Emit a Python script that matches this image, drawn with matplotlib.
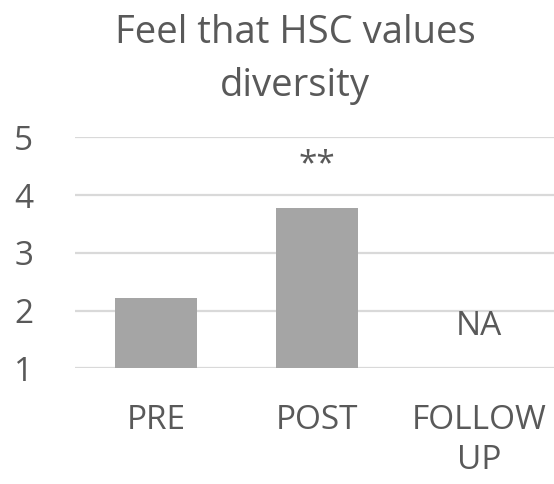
import matplotlib
matplotlib.use("Agg")
import matplotlib.pyplot as plt

categories = ["PRE", "POST", "FOLLOW\nUP"]
values = [2.22, 3.77, 0]
annotations = ["", "**", "NA"]
title_lines = ["Feel that HSC values", "diversity"]
yticks = [1, 2, 3, 4, 5]

plt.rcParams['font.family'] = ['Open Sans', 'DejaVu Sans']
text_color = "#595959"
fs = 24

fig = plt.figure(figsize=(5.54, 4.84), dpi=100)
ax = fig.add_axes([75/554, 115.7/484, 484.5/554, 231/484])
x = list(range(len(categories)))
ax.bar(x, values, width=0.51, bottom=0, color="#a5a5a5", zorder=3)
ax.set_ylim(1, 5)
ax.set_xlim(-0.5, 2.5)
ax.set_yticks(yticks)
ax.set_xticks(x)
ax.set_xticklabels(categories, fontsize=fs, color=text_color, linespacing=1.25, va='top')
ax.set_yticklabels([str(t) for t in yticks], fontsize=fs, color=text_color)
ax.tick_params(axis='x', length=0, pad=26)
ax.tick_params(axis='y', length=0, pad=30)
ax.grid(axis='y', color="#d9d9d9", linewidth=1.6, zorder=0)
for s in ax.spines.values():
    s.set_visible(False)

ann_y = [None, 4.53, 1.72]
for xi, txt, yy in zip(x, annotations, ann_y):
    if txt:
        ax.text(xi, yy, txt, ha='center', va='center', fontsize=fs, color=text_color)

for line, base in zip(title_lines, [42.7, 96]):
    fig.text(295/554, 1 - base/484, line, ha='center', va='baseline', fontsize=27.5,
             color=text_color)

fig.savefig("out.png", dpi=100)
